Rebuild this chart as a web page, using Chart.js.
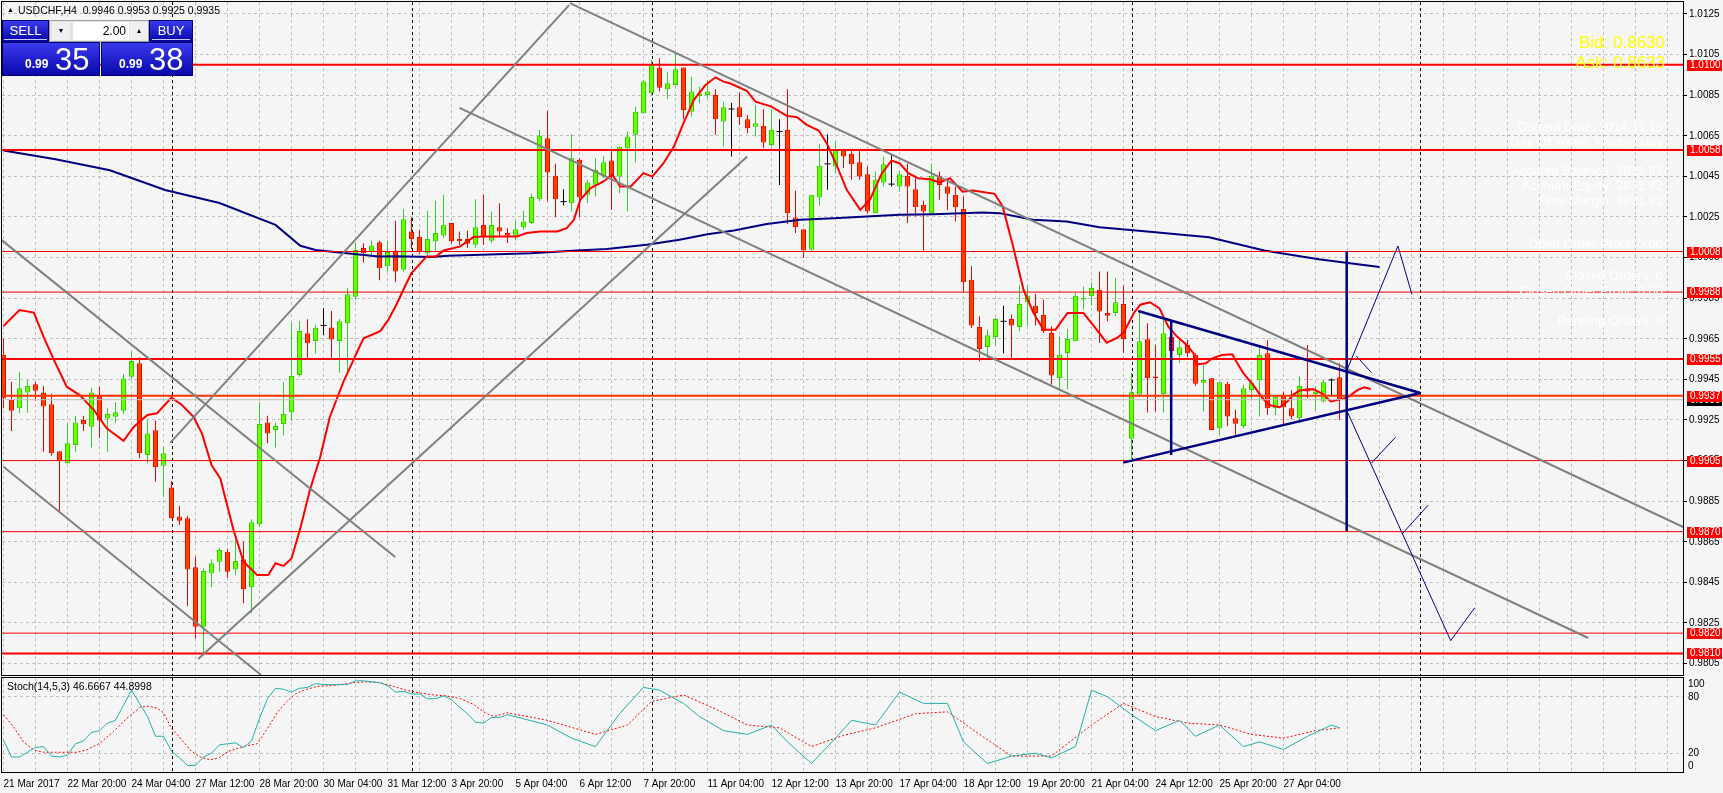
<!DOCTYPE html>
<html>
<head>
<meta charset="utf-8">
<script src="https://cdn.jsdelivr.net/npm/chart.js@4.4.1/dist/chart.umd.min.js"></script>
<style>
  body { margin: 0; background: #f5f5f5; width: 1723px; height: 793px; overflow: hidden; position: relative; font-family: 'Liberation Sans', Arial, sans-serif; }
  canvas { position: absolute; left: 0; }
  #main { top: 0; }
  #stoch { top: 657px; }
  .txt { position: absolute; white-space: nowrap; }
  #hdrArrow { left: 7px; top: 6px; font-size: 7px; color: #000; }
  #hdr { left: 18px; top: 4px; font-size: 10.5px; color: #000; }
  #stochTitle { left: 7px; top: 680px; font-size: 10.5px; color: #000; }
  .info { right: 60px; font-size: 13px; color: #fff; text-align: right; }
  .quote { right: 58px; font-size: 17px; color: #ffff00; text-align: right; }
  .blue { position: absolute; background: linear-gradient(to bottom, #3a3aee, #0808aa); color: #fff; box-sizing: border-box; border: 1px solid #00007a; }
  .btn { font-size: 13px; text-align: center; line-height: 20px; }
  .btn span { border-bottom: 1px solid #c8c8ff; padding: 0 6px 1px; }
  .px small { font-size: 12px; font-weight: bold; position: absolute; bottom: 4px; }
  .px big { font-size: 31px; position: absolute; bottom: 0px; line-height: 31px; }
  #lot { position: absolute; left: 49px; top: 20px; width: 100px; height: 22px; background: #e4e4e4; box-sizing: border-box; border: 1px solid #a0a0a0; }
  #lot .inp { position: absolute; left: 23px; top: 1px; width: 56px; height: 18px; background: #fff; font-size: 12px; text-align: right; line-height: 18px; box-sizing: border-box; padding-right: 3px; }
  #lot .arr { position: absolute; top: 1px; width: 18px; height: 18px; font-size: 7px; text-align: center; line-height: 18px; background: #f0f0f0; }
</style>
</head>
<body>
<canvas id="main" width="1723" height="677"></canvas>
<canvas id="stoch" width="1723" height="136"></canvas>

<div class="txt" id="hdrArrow">&#9650;</div>
<div class="txt" id="hdr">USDCHF,H4&nbsp; 0.9946 0.9953 0.9925 0.9935</div>
<div class="txt" id="stochTitle">Stoch(14,5,3) 46.6667 44.8998</div>

<div class="blue btn" style="left:2px;top:20px;width:47px;height:22px;"><span>SELL</span></div>
<div id="lot"><div class="arr" style="left:2px;">&#9660;</div><div class="inp">2.00</div><div class="arr" style="left:80px;">&#9650;</div></div>
<div class="blue btn" style="left:149px;top:20px;width:44px;height:22px;"><span>BUY</span></div>
<div class="blue px" style="left:2px;top:42px;width:98px;height:34px;"><small style="left:22px;">0.99</small><big style="left:52px;">35</big></div>
<div class="blue px" style="left:101px;top:42px;width:92px;height:34px;"><small style="left:17px;">0.99</small><big style="left:47px;">38</big></div>

<div class="txt quote" style="top:33px;">Bid: 0.8630</div>
<div class="txt quote" style="top:53px;">Ask: 0.8633</div>
<div class="txt info" style="top:119px;">Current Date: 2014.11.19</div>
<div class="txt info" style="top:134px;">Day Of Week: Wednesday</div>
<div class="txt info" style="top:163px;">Account Balance: 3831.92</div>
<div class="txt info" style="top:178px;">Account Equity: 3831.92</div>
<div class="txt info" style="top:193px;">Free Margin: 3831.92</div>
<div class="txt info" style="top:236px;">Open Order Profit: 0.00</div>
<div class="txt info" style="top:268px;">Closed Orders: 0</div>
<div class="txt info" style="top:283px;">Closed Order Profit: 0.00</div>
<div class="txt info" style="top:313px;">Pending Orders: 0</div>

<script>
// ---- data ----
const timeLabels = ['21 Mar 2017','22 Mar 20:00','24 Mar 04:00','27 Mar 12:00','28 Mar 20:00','30 Mar 04:00','31 Mar 12:00','3 Apr 20:00','5 Apr 04:00','6 Apr 12:00','7 Apr 20:00','11 Apr 04:00','12 Apr 12:00','13 Apr 20:00','17 Apr 04:00','18 Apr 12:00','19 Apr 20:00','21 Apr 04:00','24 Apr 12:00','25 Apr 20:00','27 Apr 04:00'];
const priceTicks = [1.0125,1.0105,1.0085,1.0065,1.0045,1.0025,1.0005,0.9985,0.9965,0.9945,0.9925,0.9905,0.9885,0.9865,0.9845,0.9825,0.9805];

const opens  = [0.99570,0.99348,0.99308,0.99385,0.99426,0.99386,0.99327,0.99096,0.99037,0.99127,0.99250,0.99217,0.99373,0.99257,0.99266,0.99296,0.99463,0.99529,0.99077,0.99199,0.99025,0.98918,0.98774,0.98766,0.98524,0.98232,0.98494,0.98552,0.98601,0.98514,0.98564,0.98426,0.98736,0.99238,0.99201,0.99230,0.99288,0.99472,0.99677,0.99639,0.99716,0.99706,0.99639,0.99726,0.99857,1.00097,1.00077,1.00125,1.00007,1.00085,0.99990,1.00179,1.00151,1.00072,1.00130,1.00159,1.00220,1.00141,1.00141,1.00113,1.00210,1.00133,1.00200,1.00171,1.00157,1.00199,1.00220,1.00338,1.00638,1.00453,1.00326,1.00318,1.00532,1.00359,1.00409,1.00449,1.00528,1.00449,1.00589,1.00655,1.00761,1.00860,1.00987,1.00879,1.00900,1.00987,1.00769,1.00846,1.00851,1.00851,1.00720,1.00782,1.00791,1.00731,1.00695,1.00699,1.00605,1.00671,1.00679,1.00248,1.00190,1.00089,1.00346,1.00512,1.00499,1.00581,1.00561,1.00520,1.00461,1.00269,1.00420,1.00412,1.00400,1.00453,1.00387,1.00310,1.00269,1.00453,1.00400,1.00359,1.00289,0.99941,0.99708,0.99610,0.99659,0.99736,0.99748,0.99708,0.99830,0.99813,0.99767,0.99679,0.99457,0.99580,0.99638,0.99843,0.99859,0.99892,0.99777,0.99777,0.99821,0.99157,0.99375,0.99648,0.99464,0.99378,0.99660,0.99570,0.99620,0.99570,0.99434,0.99456,0.99209,0.99428,0.99259,0.99221,0.99398,0.99444,0.99579,0.99308,0.99370,0.99308,0.99259,0.99406,0.99378,0.99341,0.99447,0.99460];
const highs  = [0.99652,0.99439,0.99488,0.99447,0.99439,0.99417,0.99378,0.99096,0.99234,0.99270,0.99270,0.99409,0.99414,0.99308,0.99337,0.99477,0.99587,0.99559,0.99250,0.99247,0.99119,0.98949,0.98826,0.98777,0.98577,0.98519,0.98564,0.98621,0.98613,0.98659,0.98651,0.98761,0.99337,0.99271,0.99238,0.99439,0.99729,0.99738,0.99746,0.99718,0.99800,0.99787,0.99747,0.99900,1.00124,1.00121,1.00133,1.00133,1.00133,1.00231,1.00289,1.00249,1.00187,1.00281,1.00330,1.00359,1.00220,1.00179,1.00182,1.00338,1.00359,1.00277,1.00318,1.00195,1.00233,1.00281,1.00364,1.00679,1.00773,1.00512,1.00387,1.00658,1.00540,1.00433,1.00540,1.00551,1.00584,1.00597,1.00671,1.00794,1.00925,1.01024,1.01032,1.00966,1.01060,1.00987,1.00941,1.00892,1.00925,1.00879,1.00818,1.00813,1.00863,1.00753,1.00802,1.00781,1.00781,1.00732,1.00879,1.00379,1.00190,1.00359,1.00610,1.00658,1.00622,1.00581,1.00581,1.00581,1.00499,1.00474,1.00548,1.00556,1.00477,1.00512,1.00441,1.00330,1.00512,1.00474,1.00436,1.00400,1.00351,1.00007,0.99761,0.99695,0.99753,0.99813,0.99769,0.99912,0.99912,0.99872,0.99843,0.99712,0.99662,0.99699,0.99875,0.99908,0.99928,0.99982,0.99982,0.99949,0.99912,0.99482,0.99777,0.99726,0.99620,0.99742,0.99740,0.99644,0.99644,0.99579,0.99521,0.99456,0.99436,0.99439,0.99300,0.99423,0.99447,0.99611,0.99644,0.99373,0.99390,0.99398,0.99464,0.99620,0.99415,0.99447,0.99456,0.99530];
const lows   = [0.99308,0.99196,0.99283,0.99286,0.99345,0.99094,0.99074,0.98798,0.99037,0.99094,0.99196,0.99114,0.99163,0.99094,0.99237,0.99278,0.99450,0.99061,0.99037,0.98946,0.98872,0.98766,0.98733,0.98334,0.98174,0.98101,0.98426,0.98503,0.98473,0.98486,0.98347,0.98298,0.98725,0.99135,0.99114,0.99173,0.99247,0.99463,0.99554,0.99578,0.99668,0.99554,0.99483,0.99480,0.99840,1.00026,1.00056,0.99938,0.99982,0.99928,0.99982,1.00092,1.00069,1.00059,1.00080,1.00146,1.00118,1.00113,1.00097,1.00097,1.00113,1.00122,1.00154,1.00122,1.00135,1.00187,1.00215,1.00327,1.00327,1.00249,1.00307,1.00277,1.00249,1.00318,1.00351,1.00441,1.00285,1.00367,1.00277,1.00518,1.00758,1.00851,1.00868,1.00830,1.00896,1.00731,1.00745,1.00810,1.00835,1.00655,1.00597,1.00548,1.00704,1.00663,1.00646,1.00589,1.00597,1.00408,1.00215,1.00171,1.00048,1.00085,1.00305,1.00384,1.00466,1.00491,1.00433,1.00433,1.00269,1.00269,1.00400,1.00400,1.00376,1.00220,1.00253,1.00084,1.00269,1.00335,1.00285,1.00228,0.99884,0.99703,0.99539,0.99556,0.99617,0.99577,0.99556,0.99687,0.99715,0.99715,0.99679,0.99425,0.99392,0.99400,0.99638,0.99794,0.99813,0.99629,0.99736,0.99761,0.99580,0.99056,0.99367,0.99287,0.99290,0.99287,0.99540,0.99529,0.99562,0.99418,0.99292,0.99201,0.99176,0.99221,0.99176,0.99209,0.99352,0.99267,0.99275,0.99275,0.99226,0.99254,0.99234,0.99357,0.99296,0.99336,0.99373,0.99250];
const closes = [0.99357,0.99296,0.99406,0.99417,0.99394,0.99316,0.99086,0.99048,0.99135,0.99238,0.99229,0.99386,0.99247,0.99280,0.99288,0.99455,0.99541,0.99086,0.99184,0.99017,0.99086,0.98766,0.98754,0.98514,0.98232,0.98506,0.98544,0.98610,0.98503,0.98555,0.98416,0.98746,0.99230,0.99184,0.99220,0.99280,0.99467,0.99688,0.99628,0.99705,0.99716,0.99647,0.99737,0.99869,1.00087,1.00072,1.00110,0.99998,1.00077,0.99982,1.00239,1.00141,1.00080,1.00141,1.00171,1.00212,1.00130,1.00130,1.00118,1.00200,1.00154,1.00210,1.00179,1.00159,1.00190,1.00228,1.00348,1.00650,1.00469,1.00338,1.00326,1.00540,1.00346,1.00420,1.00482,1.00520,1.00449,1.00597,1.00646,1.00769,1.00917,1.01002,1.00887,1.00909,1.00978,1.00777,1.00868,1.00859,1.00868,1.00731,1.00791,1.00782,1.00741,1.00687,1.00712,1.00617,1.00679,1.00671,1.00269,1.00200,1.00085,1.00359,1.00502,1.00512,1.00581,1.00548,1.00510,1.00449,1.00277,1.00433,1.00510,1.00412,1.00461,1.00400,1.00298,1.00277,1.00453,1.00408,1.00364,1.00298,0.99928,0.99715,0.99600,0.99667,0.99748,0.99736,0.99716,0.99821,0.99862,0.99777,0.99687,0.99469,0.99572,0.99649,0.99862,0.99851,0.99900,0.99785,0.99764,0.99830,0.99649,0.99387,0.99638,0.99456,0.99456,0.99677,0.99590,0.99608,0.99579,0.99428,0.99447,0.99201,0.99436,0.99267,0.99231,0.99406,0.99434,0.99570,0.99308,0.99365,0.99313,0.99267,0.99418,0.99390,0.99390,0.99436,0.99447,0.99350];

// fast MA (red) and slow MA (blue): [bar, price]
const redMa = [[0,0.99713],[2,0.99792],[3.8,0.99779],[5,0.99661],[6.3,0.99546],[7.9,0.99414],[9.6,0.99370],[11.3,0.99299],[12.9,0.99209],[15,0.99147],[16.3,0.99217],[18,0.99275],[19.2,0.99283],[21,0.99360],[22.3,0.99324],[23.75,0.99266],[24.8,0.99184],[26,0.99028],[27.1,0.98962],[28.75,0.98708],[30,0.98552],[31.7,0.98486],[33.1,0.98486],[34,0.98544],[35,0.98531],[36,0.98568],[37.1,0.98716],[38.3,0.98905],[39.6,0.99069],[40.8,0.99266],[42.5,0.99439],[43.75,0.99546],[45,0.99652],[47.1,0.99688],[48.1,0.99743],[49.2,0.99825],[50.2,0.99910],[51,0.99974],[52.9,1.00056],[54.1,1.00056],[55,1.00085],[57.1,1.00105],[58.75,1.00151],[60.4,1.00154],[64.2,1.00154],[65.4,1.00171],[67.1,1.00179],[69.2,1.00179],[70.4,1.00195],[71.3,1.00236],[72.1,1.00335],[73.4,1.00392],[75,1.00425],[76.1,1.00458],[77.1,1.00400],[78.4,1.00400],[80,1.00466],[81.1,1.00449],[82.5,1.00515],[83.8,1.00597],[85,1.00712],[86.3,1.00827],[87.75,1.00900],[89,1.00938],[90,1.00917],[90.8,1.00909],[92.9,1.00872],[94,1.00818],[96,1.00794],[97.9,1.00748],[99.2,1.00741],[100.4,1.00704],[101.9,1.00676],[102.9,1.00614],[104.2,1.00499],[105.4,1.00384],[107.1,1.00285],[108.3,1.00335],[109.8,1.00466],[111,1.00528],[112,1.00515],[113.1,1.00466],[114.3,1.00441],[115.8,1.00436],[117,1.00420],[118.3,1.00441],[119.9,1.00375],[121.2,1.00380],[123.9,1.00364],[124.9,1.00302],[126.2,1.00105],[127.5,0.99892],[128.75,0.99777],[130,0.99695],[131.5,0.99695],[133,0.99777],[135,0.99777],[136.3,0.99712],[137.9,0.99631],[139.2,0.99654],[140,0.99679],[141.3,0.99777],[142.1,0.99818],[143.3,0.99830],[144.5,0.99800],[145.6,0.99710],[146.7,0.99661],[147.9,0.99620],[148.75,0.99579],[149.1,0.99524],[150.3,0.99529],[151.1,0.99554],[152.3,0.99570],[153.6,0.99574],[154.1,0.99538],[155,0.99480],[156.2,0.99423],[157.4,0.99357],[158.2,0.99324],[159.5,0.99313],[160.5,0.99341],[161.2,0.99374],[162,0.99395],[163.7,0.99402],[164.9,0.99379],[165.9,0.99341],[166.9,0.99349],[168,0.99362],[169.3,0.99398],[170.1,0.99411],[170.9,0.99403]];
const blueMa = [[0,1.00578],[6.5,1.00534],[13.3,1.00480],[20.2,1.00383],[27,1.00319],[34,1.00211],[37.1,1.00108],[39,1.00087],[42.9,1.00071],[46.9,1.00056],[49,1.00057],[53.5,1.00053],[55.6,1.00059],[59.7,1.00064],[65.9,1.00072],[71.7,1.00085],[75.4,1.00092],[80.4,1.00113],[84.5,1.00138],[88,1.00165],[91.3,1.00184],[95.4,1.00215],[99.6,1.00236],[103.8,1.00244],[107.9,1.00253],[112,1.00261],[116.2,1.00264],[122.4,1.00272],[124.5,1.00269],[128.7,1.00236],[132.9,1.00228],[137,1.00200],[143.3,1.00177],[150.7,1.00150],[157.6,1.00085],[164.4,1.00042],[172,1.00004]];

// stochastic %K and %D: [bar, value]
const stochK = [[0,34],[1,16],[2,16],[4,26],[5,27],[6,17],[7,16],[8,18],[9,30],[10,33],[11,42],[12,44],[13,52],[14,55],[15,71],[16,87],[17,73],[18,59],[19,38],[20,38],[21,22],[22,15],[23,7],[24,7],[25,16],[26,20],[27,29],[28,30],[29,31],[30,26],[31,33],[32,57],[33,78],[34,89],[35,88],[36,85],[37,89],[38,90],[39,94],[40,93],[41,93],[43,93],[44,97],[45,97],[47,95],[48,92],[49,85],[50,86],[51,83],[52,83],[53,78],[54,78],[55,81],[56,77],[57,69],[58,62],[59,53],[60,52],[61,58],[62,58],[63,61],[68,50],[71,36],[74,27],[77,62],[80,90],[82,87],[85,73],[87,59],[90,44],[93,40],[96,50],[98,32],[101,9],[104,36],[106,55],[109,50],[112,85],[115,73],[118,73],[120,32],[123,9],[126,17],[129,20],[131,15],[134,27],[136,87],[138,80],[141,61],[144,44],[147,55],[149,38],[152,50],[155,27],[157,32],[160,24],[163,38],[166,50],[167,47]];
const stochD = [[0,61],[1.25,48],[2.5,32],[3.75,23.5],[5,21],[7.1,21],[9.2,21],[10.4,23.5],[12.1,31],[13.75,43],[15.4,57],[17.1,69],[18.1,70],[19.2,68],[20,63],[21,46.5],[22.3,34],[23.5,22],[24.6,16],[25.8,13],[26.9,15],[28.1,22],[29.2,25],[30.4,28],[31.7,30],[32.9,45],[34.2,63],[35.4,75],[36.5,83],[37.5,87],[39.2,91],[41.25,92],[43.75,95],[45.4,96],[47.1,95],[48.75,91],[50.4,87],[52.1,84],[53.75,82],[55.4,81],[57.1,78],[58.75,72],[60,64],[61.25,59],[63,63],[68,55],[74,40],[78,50],[81,75],[85,82],[89,67],[93,50],[97,47],[101,27],[105,39],[109,47],[114,62],[118,64],[122,40],[126,17],[131,17],[136,50],[140,73],[144,59],[148,52],[152,50],[156,40],[160,36],[164,44],[167,47]];

// horizontal levels and their line widths
const levels      = [1.0100, 1.0058, 1.0008, 0.9988, 0.9955, 0.9937, 0.9905, 0.9870, 0.9820, 0.9810];
const levelWidths = [2, 2, 1, 1, 2, 2, 1, 1, 1, 2];
const bidPrice = 0.9935;

// drawn objects in [bar, price] pairs
const greyLines = [
  [[70.8, 1.01304], [209.96, 0.98723]],
  [[57.0, 1.00788], [198.1, 0.98176]],
  [[20.84, 0.99137], [70.7, 1.01294]],
  [[24.34, 0.98073], [92.97, 1.00548]],
  [[-0.41, 1.00142], [48.96, 0.98575]],
  [[0.0, 0.99020], [32.2, 0.97994]]
];
const navyThick = [
  [[141.84, 0.99787], [177.09, 0.99383]],
  [[139.96, 0.99040], [177.09, 0.99383]],
  [[145.96, 0.99743], [145.96, 0.99078]],
  [[167.9, 1.00083], [167.9, 0.98703]]
];
const navyThin = [
  [[167.94, 0.99496], [174.3, 1.00107], [176.06, 0.99868]],
  [[169.1, 0.99565], [171.0, 0.99483]],
  [[167.94, 0.99294], [180.9, 0.98163], [183.9, 0.98325]],
  [[171.0, 0.99038], [174.0, 0.99165]],
  [[174.8, 0.98688], [178.1, 0.98831]]
];
const separatorBars = [21, 51, 81, 141, 177];

// ---- chart setup ----
const FONT = "'Liberation Sans', Arial, sans-serif";
const xMin = -0.1875, xMax = 209.9375;
const gridBars = [];
for (let b = 0; b <= 208; b += 4) gridBars.push(b);

const idx = opens.map((_, i) => i);
const isDoji = i => opens[i] === closes[i];
const isUp = i => closes[i] > opens[i];
const bodyIdx = idx.filter(i => !isDoji(i));

const pts = arr => arr.map(p => ({ x: p[0], y: p[1] }));
const lineDs = (data, color, width, extra) => Object.assign({
  type: 'line', data, borderColor: color, borderWidth: width, pointRadius: 0,
  fill: false, tension: 0, clip: 0
}, extra || {});
const noPad = s => { s.paddingLeft = 0; s.paddingRight = 0; s.paddingTop = 0; s.paddingBottom = 0; };

const datasets = [];
// candles
datasets.push({
  type: 'bar', grouped: false, maxBarThickness: 1, inflateAmount: 0, borderWidth: 0,
  data: idx.map(i => ({ x: i, y: [lows[i], highs[i]] })),
  backgroundColor: idx.map(i => isDoji(i) ? '#000000' : (isUp(i) ? '#33cc33' : '#ff0000'))
});
datasets.push({
  type: 'bar', grouped: false, maxBarThickness: 5, inflateAmount: 0, borderWidth: 1, borderSkipped: false,
  data: bodyIdx.map(i => ({ x: i, y: [opens[i], closes[i]] })),
  backgroundColor: bodyIdx.map(i => isUp(i) ? '#66ff00' : '#ff4000'),
  borderColor: bodyIdx.map(i => isUp(i) ? '#33cc00' : '#ff0000')
});
datasets.push({
  type: 'scatter', data: idx.filter(isDoji).map(i => ({ x: i, y: opens[i] })),
  pointStyle: 'line', pointRadius: 3, borderColor: '#000', borderWidth: 1, clip: 0
});
// moving averages
datasets.push(lineDs(pts(blueMa), '#000080', 2));
datasets.push(lineDs(pts(redMa), '#ff0000', 2));
// bid line and levels
datasets.push(lineDs([{ x: xMin, y: bidPrice }, { x: xMax, y: bidPrice }], '#c0c0c0', 1));
levels.forEach((lv, k) => {
  datasets.push(lineDs([{ x: xMin, y: lv }, { x: xMax, y: lv }], lv === 0.9937 ? '#ff3300' : '#ff0000', levelWidths[k]));
});
// trend lines
greyLines.forEach(l => datasets.push(lineDs(pts(l), '#808080', 2)));
navyThick.forEach(l => datasets.push(lineDs(pts(l), '#000080', 2.5)));
navyThin.forEach(l => datasets.push(lineDs(pts(l), '#000080', 1)));
// later datasets on top
datasets.forEach((d, k) => { d.order = datasets.length - k; });

const framePlugin = {
  id: 'frame',
  beforeDatasetsDraw(chart) {
    const { ctx, chartArea: a, scales: { x } } = chart;
    ctx.save();
    ctx.strokeStyle = '#000';
    ctx.lineWidth = 1;
    ctx.setLineDash([3, 3]);
    separatorBars.forEach(b => {
      const px = Math.round(x.getPixelForValue(b)) + 0.5;
      ctx.beginPath(); ctx.moveTo(px, a.top); ctx.lineTo(px, a.bottom); ctx.stroke();
    });
    ctx.restore();
  },
  afterDraw(chart) {
    const { ctx, chartArea: a } = chart;
    ctx.save();
    ctx.strokeStyle = '#000';
    ctx.lineWidth = 1;
    ctx.strokeRect(a.left - 0.5, a.top - 0.5, a.right - a.left + 1, a.bottom - a.top + 1);
    ctx.restore();
  }
};

const priceBoxes = {
  id: 'priceBoxes',
  afterDraw(chart) {
    const { ctx, scales: { y }, chartArea: a } = chart;
    ctx.save();
    ctx.font = '10px ' + FONT;
    ctx.textBaseline = 'middle';
    const box = (price, bg) => {
      const py = Math.round(y.getPixelForValue(price));
      ctx.fillStyle = bg;
      ctx.fillRect(a.right + 4, py - 5, 35, 11);
      ctx.fillStyle = '#fff';
      ctx.fillText(price.toFixed(4), a.right + 7, py + 0.5);
    };
    box(bidPrice, '#000');
    levels.forEach(lv => box(lv, '#ff0000'));
    ctx.restore();
  }
};

new Chart(document.getElementById('main'), {
  type: 'bar',
  data: { datasets },
  options: {
    responsive: false,
    animation: false,
    layout: { autoPadding: false, padding: { left: 2, top: 2, right: 0, bottom: 2 } },
    plugins: { legend: { display: false }, tooltip: { enabled: false } },
    scales: {
      x: {
        type: 'linear', min: xMin, max: xMax, offset: false,
        afterBuildTicks: s => { s.ticks = gridBars.map(v => ({ value: v })); },
        ticks: { display: false },
        grid: { color: '#c0c0c0', drawTicks: false, offset: false },
        border: { display: false, dash: [3, 3] },
        afterFit: s => { s.height = 0; noPad(s); }
      },
      y: {
        type: 'linear', position: 'right', min: 0.979938, max: 1.013091,
        afterBuildTicks: s => { s.ticks = priceTicks.map(v => ({ value: v })); },
        ticks: { callback: v => v.toFixed(4), color: '#000', font: { family: FONT, size: 10 }, padding: 2 },
        grid: { color: '#c0c0c0', tickColor: '#000', tickLength: 4, tickBorderDash: [] },
        border: { display: false, dash: [3, 3] },
        afterFit: s => { s.width = 40; noPad(s); }
      }
    }
  },
  plugins: [framePlugin, priceBoxes]
});

// ---- stochastic panel ----
const stochLabels = {
  id: 'stochLabels',
  afterDraw(chart) {
    const { ctx, scales: { y }, chartArea: a } = chart;
    ctx.save();
    ctx.font = '10px ' + FONT;
    ctx.fillStyle = '#000';
    ctx.textBaseline = 'middle';
    [[100, 6], [80, 0], [20, 0], [0, -6]].forEach(([v, off]) => {
      ctx.fillText(String(v), a.right + 5, y.getPixelForValue(v) + off);
    });
    ctx.restore();
  }
};

new Chart(document.getElementById('stoch'), {
  type: 'line',
  data: {
    datasets: [
      lineDs(pts(stochK), '#20b2aa', 1),
      lineDs(pts(stochD), '#ff0000', 1, { borderDash: [2, 2] })
    ]
  },
  options: {
    responsive: false,
    animation: false,
    layout: { autoPadding: false, padding: { left: 2, top: 21, right: 0, bottom: 0 } },
    plugins: { legend: { display: false }, tooltip: { enabled: false } },
    scales: {
      x: {
        type: 'linear', min: xMin, max: xMax, offset: false,
        afterBuildTicks: s => { s.ticks = gridBars.map(v => ({ value: v })); },
        ticks: {
          autoSkip: false, maxRotation: 0, minRotation: 0, align: 'start', padding: 6,
          color: '#000', font: { family: FONT, size: 10 },
          callback: v => (v % 8 === 0 && v / 8 < timeLabels.length) ? timeLabels[v / 8] : ''
        },
        grid: { color: '#c0c0c0', drawTicks: false, offset: false },
        border: { display: false, dash: [3, 3] },
        afterFit: s => { s.height = 21; noPad(s); }
      },
      y: {
        type: 'linear', position: 'right', min: 0, max: 100,
        afterBuildTicks: s => { s.ticks = [20, 80].map(v => ({ value: v })); },
        ticks: { display: false },
        grid: { color: '#c0c0c0', drawTicks: false },
        border: { display: false, dash: [3, 3] },
        afterFit: s => { s.width = 40; noPad(s); }
      }
    }
  },
  plugins: [framePlugin, stochLabels]
});
</script>
</body>
</html>
